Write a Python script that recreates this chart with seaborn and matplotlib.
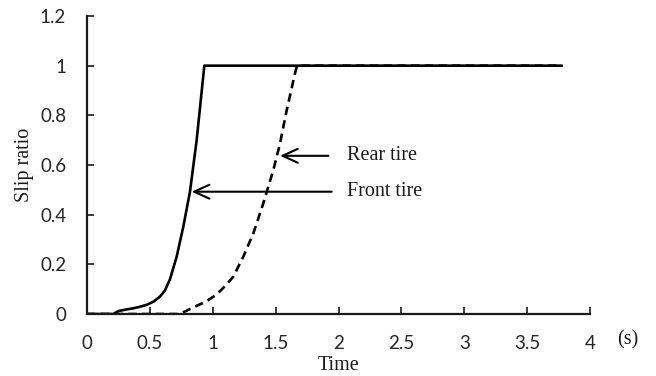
import numpy as np
import pandas as pd
import matplotlib
matplotlib.use("Agg")
import matplotlib.pyplot as plt
import seaborn as sns
from matplotlib.ticker import FuncFormatter

# ---- data ----
front_time = [0.0, 0.21, 0.25, 0.30, 0.368, 0.42, 0.475, 0.53, 0.58, 0.62, 0.66,
              0.713, 0.766, 0.819, 0.872, 0.933, 3.777]
front_slip = [0.0, 0.0, 0.012, 0.017, 0.023, 0.029, 0.037, 0.05, 0.07, 0.095, 0.14,
              0.231, 0.352, 0.493, 0.70, 1.0, 1.0]

rear_time = [0.0, 0.72, 0.78, 0.845, 0.925, 0.965, 1.02, 1.07, 1.12, 1.163, 1.243,
             1.323, 1.402, 1.482, 1.535, 1.588, 1.654, 1.67, 3.777]
rear_slip = [0.0, 0.0, 0.01, 0.027, 0.045, 0.056, 0.075, 0.098, 0.125, 0.15, 0.231,
             0.325, 0.446, 0.58, 0.687, 0.82, 0.969, 1.0, 1.0]

series_names = ["Front tire", "Rear tire"]
annot_tips = {"Rear tire": (1.535, 0.637), "Front tire": (0.832, 0.4925)}
annot_tails = {"Rear tire": (1.92, 0.637), "Front tire": (1.946, 0.4925)}
annot_text_x = 2.07

x_ticks = [0, 0.5, 1, 1.5, 2, 2.5, 3, 3.5, 4]
y_ticks = [0, 0.2, 0.4, 0.6, 0.8, 1.0, 1.2]

df = pd.concat([
    pd.DataFrame({"Time": front_time, "Slip": front_slip, "tire": series_names[0]}),
    pd.DataFrame({"Time": rear_time, "Slip": rear_slip, "tire": series_names[1]}),
], ignore_index=True)

sns.set_theme(style="white")
plt.rcParams["font.family"] = ["Lato", "DejaVu Sans"]

W, H = 656, 376
fig = plt.figure(figsize=(W / 100, H / 100), dpi=100)
ax = fig.add_axes([87 / W, 1 - 314 / H, (590 - 87) / W, (314 - 16) / H])

sns.lineplot(data=df, x="Time", y="Slip", hue="tire", style="tire",
             palette={"Front tire": "black", "Rear tire": "black"},
             dashes={"Front tire": "", "Rear tire": (3.2, 2.0)},
             sort=False, estimator=None, units="tire", lw=1.9, legend=False, ax=ax)

ax.set_xlim(0, 4)
ax.set_ylim(0, 1.2)
ax.set_xticks(x_ticks)
ax.set_yticks(y_ticks)
fmt = FuncFormatter(lambda v, p: "%g" % v)
ax.xaxis.set_major_formatter(fmt)
ax.yaxis.set_major_formatter(fmt)
ax.set_xlabel("")
ax.set_ylabel("")

for s in ["top", "right"]:
    ax.spines[s].set_visible(False)
for s in ["left", "bottom"]:
    ax.spines[s].set_color("#1a1a1a")
    ax.spines[s].set_linewidth(1.6)

ax.tick_params(axis="x", direction="in", length=5, width=1.2, color="#1a1a1a",
               pad=15, labelsize=13.5, labelcolor="#262626", bottom=True)
ax.tick_params(axis="y", direction="in", length=5, width=1.2, color="#1a1a1a",
               pad=15, labelsize=13.5, labelcolor="#262626", left=True)

serif = ["Liberation Serif", "DejaVu Serif"]
for name in series_names:
    ax.annotate("", xy=annot_tips[name], xytext=annot_tails[name],
                arrowprops=dict(arrowstyle="->,head_length=0.55,head_width=0.25",
                                mutation_scale=20, lw=1.5, color="black",
                                shrinkA=0, shrinkB=0))
    ax.text(annot_text_x, annot_tails[name][1], name, family=serif, fontsize=14.5,
            ha="left", va="center", color="#1a1a1a")

fig.text(338.5 / W, 1 - 366 / H, "Time", family=serif, fontsize=14.5,
         ha="center", va="center", color="#1a1a1a")
fig.text(24 / W, 1 - 165 / H, "Slip ratio", family=serif, fontsize=14.5,
         rotation=90, ha="center", va="center", color="#1a1a1a")
fig.text(628 / W, 1 - 340 / H, "(s)", family=serif, fontsize=14.5,
         ha="center", va="center", color="#1a1a1a")

fig.savefig("out.png", dpi=100)
